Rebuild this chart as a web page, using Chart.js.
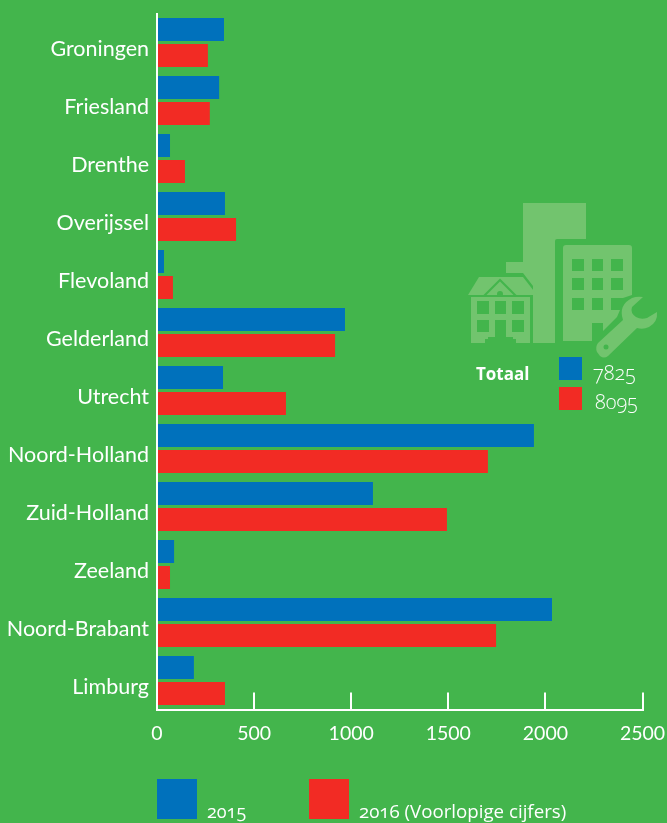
<!DOCTYPE html>
<html>
<head>
<meta charset="utf-8">
<script src="https://cdn.jsdelivr.net/npm/chart.js@4"></script>
<style>
  html, body { margin: 0; padding: 0; background: #43b54c; }
  #wrap { position: relative; width: 667px; height: 823px; overflow: hidden; font-family: "Open Sans", sans-serif; color: #fff; }
  #chart { position: absolute; left: 0; top: 0; }
  #icon { position: absolute; left: 0; top: 0; }
  .swatch { position: absolute; }
  .label { position: absolute; white-space: nowrap; font-feature-settings: "onum"; line-height: 1; }
</style>
</head>
<body>
<div id="wrap">
  <canvas id="chart" width="667" height="823"></canvas>
  <svg id="icon" width="667" height="823">
    <!-- gebouwen -->
    <path fill="#72c46e" d="M523 203H586V239H557Q555 239 555 241V343H533V286L523 273H506V262H523Z"/>
    <path fill="#72c46e" fill-rule="evenodd" d="M566 245H629Q632 245 632 248V295L623 298H611V310H620L617 317L603 331V323H592V341H563V248Q563 245 566 245Z
      M572 259V271H584V259Z M592 259V271H603V259Z M611 259V271H623V259Z
      M572 278V290H584V278Z M592 278V290H603V278Z M611 278V290H623V278Z
      M572 298V310H584V298Z M592 298V310H603V298Z"/>
    <path fill="#72c46e" d="M468 295L479 277H523L537 295Z"/>
    <path fill="#72c46e" fill-rule="evenodd" d="M471 297H530V343H516V339H513V337H506V320H495V337H488V339H485V343H471Z
      M477 301V314H489V301Z M495 301V314H506V301Z M512 301V314H524V301Z
      M477 320V332H489V320Z M512 320V332H524V320Z"/>
    <path fill="none" stroke="#43b54c" stroke-width="2" d="M484 296L500 280L516 296"/>
    <circle cx="500" cy="294" r="3" fill="#43b54c"/>
    <!-- moersleutel -->
    <path fill="#72c46e" d="M598 343L623 320Q618 305 632 298Q637 296 643 297L632 307Q630 313 636 317Q641 320 647 318L657 312Q658 322 649 327Q643 330 637 328L608 356Q604 359 600 356L597 352Q595 347 598 343Z"/>
    <circle cx="606" cy="347" r="2.5" fill="#43b54c"/>
  </svg>
  <div id="totals"></div>
  <div id="legend"></div>
</div>
<script>
const provinces = ["Groningen", "Friesland", "Drenthe", "Overijssel", "Flevoland", "Gelderland", "Utrecht", "Noord-Holland", "Zuid-Holland", "Zeeland", "Noord-Brabant", "Limburg"];
const values2015 = [345, 320, 67, 350, 36, 968, 340, 1941, 1112, 88, 2034, 190];
const values2016 = [262, 272, 144, 407, 82, 917, 664, 1704, 1493, 67, 1746, 350];
const seriesNames = ["2015", "2016 (Voorlopige cijfers)"];
const totals = ["7825", "8095"];
const blue = "#0071bc";
const red = "#f22b24";

new Chart(document.getElementById("chart"), {
  type: "bar",
  data: {
    labels: provinces,
    datasets: [
      { label: seriesNames[0], data: values2015, backgroundColor: blue },
      { label: seriesNames[1], data: values2016, backgroundColor: red }
    ]
  },
  options: {
    indexAxis: "y",
    responsive: false,
    animation: false,
    categoryPercentage: 0.8966,
    barPercentage: 0.8846,
    layout: { padding: { top: 13.5, right: 24.5, left: 0, bottom: 0 } },
    plugins: { legend: { display: false }, tooltip: { enabled: false } },
    scales: {
      x: {
        min: 0,
        max: 2500,
        afterFit: (scale) => { scale.height = 113.5; scale.paddingLeft = 0; scale.paddingRight = 0; },
        border: { color: "#fff", width: 2 },
        grid: { drawOnChartArea: false, color: "#fff", lineWidth: 2, tickLength: -17 },
        ticks: { stepSize: 500, color: "#fff", maxRotation: 0, padding: 30, font: { family: "Lato", size: 19.5 }, callback: (v) => String(v) }
      },
      y: {
        afterFit: (scale) => { scale.width = 157; scale.paddingTop = 0; scale.paddingBottom = 0; },
        border: { color: "#fff", width: 2 },
        grid: { display: false, drawTicks: false },
        ticks: { color: "#fff", padding: 8, autoSkip: false, labelOffset: 6.5, font: { family: "Lato", size: 21.5 } }
      }
    }
  }
});

// losse teksten en kleurvlakken, zelfde positie als in het origineel
function addBox(parent, x, y, w, h, color) {
  const d = document.createElement("div");
  d.className = "swatch";
  d.style.cssText = `left:${x}px;top:${y}px;width:${w}px;height:${h}px;background:${color}`;
  parent.appendChild(d);
}
function addText(parent, x, y, size, text, weight) {
  const d = document.createElement("div");
  d.className = "label";
  d.style.cssText = `left:${x}px;top:${y}px;font-size:${size}px;font-weight:${weight || 400}`;
  d.textContent = text;
  parent.appendChild(d);
}

const totalsEl = document.getElementById("totals");
addText(totalsEl, 476, 365, 17, "Totaal", 700);
addBox(totalsEl, 559, 357, 23, 23, blue);
addBox(totalsEl, 559, 387, 23, 23, red);
addText(totalsEl, 593, 363, 20, totals[0], 300);
addText(totalsEl, 595, 392, 20, totals[1], 300);

const legendEl = document.getElementById("legend");
addBox(legendEl, 157, 779, 40, 40, blue);
addBox(legendEl, 309, 779, 40, 40, red);
addText(legendEl, 207, 802, 18, seriesNames[0], 400);
addText(legendEl, 359, 802, 18.7, seriesNames[1], 400);
</script>
</body>
</html>
